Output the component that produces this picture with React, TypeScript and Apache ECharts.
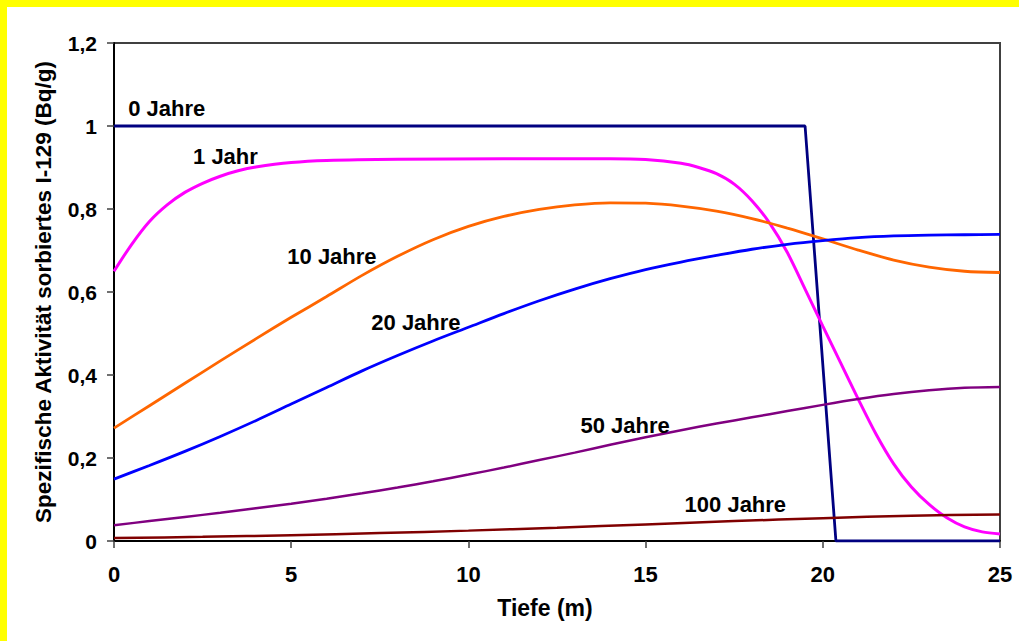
import React, { useEffect, useRef } from "react";
import * as echarts from "echarts";

// ---- data (depth in m, specific activity in Bq/g) ----
const xTicks = [0, 5, 10, 15, 20, 25];
const yTicks = [0, 0.2, 0.4, 0.6, 0.8, 1, 1.2];

const depth0 = [0, 19.5, 20.37, 25];
const jahre0 = [1, 1, 0, 0];

const depth1 = [0, 0.5, 1, 1.5, 2, 2.5, 3, 3.5, 4, 5, 6, 8, 11, 14, 15, 16, 16.5, 17, 17.5, 18, 18.5, 19, 19.5, 20, 20.5, 21, 21.5, 22, 22.5, 23, 23.5, 24, 24.5, 25];
const jahr1 = [0.65, 0.715, 0.77, 0.81, 0.84, 0.862, 0.879, 0.892, 0.901, 0.912, 0.917, 0.92, 0.921, 0.921, 0.919, 0.91, 0.9, 0.885, 0.86, 0.82, 0.766, 0.695, 0.607, 0.518, 0.43, 0.342, 0.258, 0.186, 0.13, 0.088, 0.056, 0.034, 0.022, 0.017];

const depthInt = [0, 1, 2, 3, 4, 5, 6, 7, 8, 9, 10, 11, 12, 13, 14, 15, 16, 17, 18, 19, 20, 21, 22, 23, 24, 25];
const jahre10 = [0.272, 0.326, 0.38, 0.434, 0.487, 0.539, 0.589, 0.64, 0.686, 0.726, 0.758, 0.782, 0.799, 0.81, 0.815, 0.814, 0.807, 0.795, 0.777, 0.754, 0.728, 0.701, 0.677, 0.66, 0.65, 0.647];
const jahre20 = [0.149, 0.182, 0.216, 0.252, 0.29, 0.33, 0.37, 0.41, 0.447, 0.482, 0.515, 0.548, 0.579, 0.607, 0.632, 0.654, 0.672, 0.688, 0.703, 0.715, 0.724, 0.731, 0.735, 0.737, 0.738, 0.739];
const jahre50 = [0.038, 0.048, 0.058, 0.068, 0.079, 0.09, 0.102, 0.115, 0.129, 0.144, 0.16, 0.177, 0.195, 0.213, 0.232, 0.25, 0.267, 0.283, 0.298, 0.313, 0.328, 0.342, 0.354, 0.363, 0.369, 0.371];

const depth100 = [0, 2.5, 5, 7.5, 10, 12.5, 15, 17.5, 20, 22.5, 25];
const jahre100 = [0.007, 0.01, 0.014, 0.019, 0.025, 0.032, 0.04, 0.048, 0.055, 0.061, 0.064];

const seriesNames = ["0 Jahre", "1 Jahr", "10 Jahre", "20 Jahre", "50 Jahre", "100 Jahre"];
const seriesColors = ["#000080", "#FF00FF", "#FF6600", "#0000FF", "#800080", "#800000"];

// label anchor points (data units: depth, activity)
const labelX = [0.4, 2.23, 4.89, 7.26, 13.16, 16.1];
const labelY = [1.041, 0.9265, 0.6855, 0.5265, 0.2795, 0.088];

const FONT = '"Liberation Sans", Arial, sans-serif';

function zip(xs: number[], ys: number[]) {
  return xs.map((x, i) => [x, ys[i]]);
}

function fmt(v: number) {
  return String(Number(v.toFixed(1))).replace(".", ",");
}

export default function App() {
  const ref = useRef<HTMLDivElement>(null);
  useEffect(() => {
    if (!ref.current) return;
    const chart = echarts.init(ref.current, null, { renderer: "svg" });
    const lineData = [
      zip(depth0, jahre0),
      zip(depth1, jahr1),
      zip(depthInt, jahre10),
      zip(depthInt, jahre20),
      zip(depthInt, jahre50),
      zip(depth100, jahre100),
    ];
    const widths = [2.8, 3, 2.8, 2.8, 2.5, 2.5];
    const smooth = [false, true, true, true, true, true];
    const yellow = [
      { type: "rect", shape: { x: 0, y: 0, width: 1019, height: 7 }, style: { fill: "#FFFF00" }, z: 100 },
      { type: "rect", shape: { x: 0, y: 0, width: 7, height: 641 }, style: { fill: "#FFFF00" }, z: 100 },
    ];
    chart.setOption({
      animation: false,
      backgroundColor: "#ffffff",
      graphic: yellow,
      grid: {
        left: 114,
        right: 19,
        top: 43,
        bottom: 100,
        show: true,
        borderColor: "#404040",
        borderWidth: 2,
        backgroundColor: "#ffffff",
      },
      xAxis: {
        type: "value",
        min: xTicks[0],
        max: xTicks[xTicks.length - 1],
        interval: 5,
        name: "Tiefe (m)",
        nameLocation: "middle",
        nameGap: 55,
        nameTextStyle: { fontFamily: FONT, fontWeight: "bold", fontSize: 23, color: "#000", padding: [0, 24, 0, 0] },
        axisLine: { show: true, onZero: false, lineStyle: { color: "#000", width: 2 } },
        axisTick: { show: true, inside: false, length: 7, lineStyle: { color: "#404040", width: 1.5 } },
        axisLabel: { margin: 22, fontFamily: FONT, fontWeight: "bold", fontSize: 22, color: "#000" },
        splitLine: { show: false },
      },
      yAxis: {
        type: "value",
        min: yTicks[0],
        max: yTicks[yTicks.length - 1],
        interval: 0.2,
        name: "Spezifische Aktivität sorbiertes I-129 (Bq/g)",
        nameLocation: "middle",
        nameRotate: 90,
        nameGap: 59,
        nameTextStyle: { fontFamily: FONT, fontWeight: "bold", fontSize: 22.5, color: "#000" },
        axisLine: { show: true, onZero: false, lineStyle: { color: "#000", width: 2 } },
        axisTick: { show: true, inside: false, length: 7, lineStyle: { color: "#404040", width: 1.5 } },
        axisLabel: {
          margin: 17,
          fontFamily: FONT,
          fontWeight: "bold",
          fontSize: 21,
          color: "#000",
          formatter: (v: number) => fmt(v),
        },
        splitLine: { show: false },
      },
      series: lineData.map((d, i) => ({
        type: "line",
        name: seriesNames[i],
        data: d,
        showSymbol: false,
        symbol: "none",
        smooth: smooth[i] ? 0.3 : false,
        lineStyle: { color: seriesColors[i], width: widths[i] },
        z: 2 + i,
      })),
    });
    const texts = labelX.map((x, i) => {
      const p = chart.convertToPixel({ gridIndex: 0 }, [x, labelY[i]]) as number[];
      return {
        type: "text",
        x: p[0],
        y: p[1],
        z: 50,
        silent: true,
        style: {
          text: seriesNames[i],
          fill: "#000000",
          font: `bold 22px ${FONT}`,
          align: "left",
          verticalAlign: "middle",
          textAlign: "left",
          textVerticalAlign: "middle",
        },
      };
    });
    chart.setOption({ graphic: [...yellow, ...texts] });
    return () => chart.dispose();
  }, []);
  return (
    <div
      ref={ref}
      style={{ position: "absolute", left: 0, top: 0, width: 1019, height: 641 }}
    />
  );
}
